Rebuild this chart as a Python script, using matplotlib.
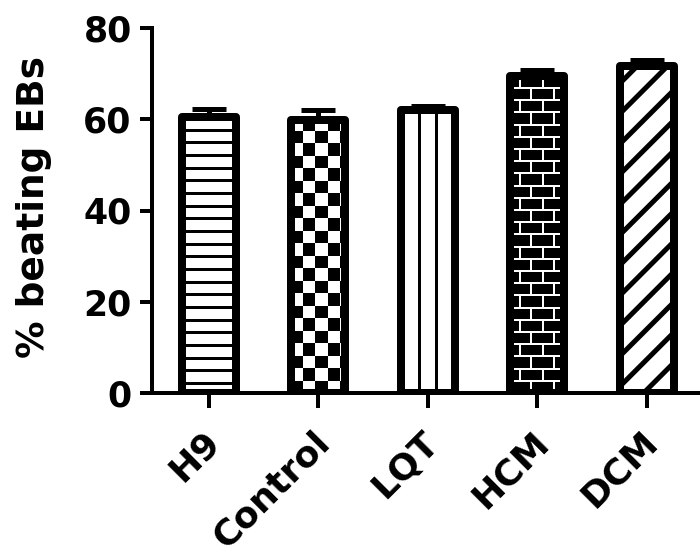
import numpy as np
import matplotlib
matplotlib.use('Agg')
import matplotlib.pyplot as plt
from matplotlib.patches import Rectangle
from matplotlib.collections import PatchCollection, LineCollection
from matplotlib.transforms import ScaledTranslation

groups = ['H9', 'Control', 'LQT', 'HCM', 'DCM']
pct_beating = [60.5, 59.8, 62.0, 69.5, 71.6]
sem = [1.7, 2.2, 0.9, 1.3, 1.4]
fills = ['hlines', 'checker', 'vlines', 'brick', 'diag']
y_ticks = [0, 20, 40, 60, 80]

PT = 0.72  # points per pixel at dpi 100


def add_fill(ax, bar, kind, px, py):
    x0, y0 = bar.get_x(), bar.get_y()
    w, h = bar.get_width(), bar.get_height()
    xc = x0 + w / 2
    arts = []
    if kind == 'hlines':
        ys = np.arange(10 * py, h, 12.67 * py)
        arts.append(ax.hlines(ys, x0, x0 + w, colors='k', lw=3 * PT))
    elif kind == 'checker':
        sx, sy = 12.5 * px, 12.5 * py
        squares = []
        for i in range(int(w / sx) + 2):
            for j in range(int(h / sy) + 2):
                if (i + j) % 2 == 0:
                    squares.append(Rectangle((x0 - px + i * sx, y0 + j * sy), sx, sy))
        arts.append(ax.add_collection(PatchCollection(squares, facecolor='k', edgecolor='none')))
    elif kind == 'vlines':
        arts.append(ax.vlines([xc - 8.5 * px, xc + 8.5 * px], y0, y0 + h, colors='k', lw=3 * PT))
    elif kind == 'brick':
        arts.append(ax.add_patch(Rectangle((x0, y0), w, h, facecolor='k', edgecolor='none')))
        row = 12.2 * py
        ys = np.arange(row, h, row)
        arts.append(ax.hlines(ys, x0, x0 + w, colors='w', lw=2 * PT))
        vx, vb, vt = [], [], []
        for j in range(int(h / row) + 1):
            start = xc - 6 * px + (j % 2) * 11.5 * px - 46 * px
            for k in range(5):
                vx.append(start + k * 23 * px)
                vb.append(y0 + j * row)
                vt.append(y0 + (j + 1) * row)
        arts.append(ax.vlines(vx, vb, vt, colors='w', lw=2 * PT))
    elif kind == 'diag':
        w_px, h_px = w / px, h / py
        segs = []
        for c in np.arange(-w_px, h_px + 30.3, 30.3):
            segs.append([(x0, y0 + c * py), (x0 + w_px * px, y0 + (c + w_px) * py)])
        arts.append(ax.add_collection(LineCollection(segs, colors='k', lw=5 * PT)))
    for a in arts:
        a.set_zorder(2)
        a.set_clip_path(bar)


fig = plt.figure(figsize=(7, 5.58), dpi=100)
ax = fig.add_axes([152 / 700, 165 / 558, 548 / 700, 365 / 558])
ax.set_xlim(-0.52, 4.485)
ax.set_ylim(0, 80)

px = (4.485 + 0.52) / 548
py = 80 / 365

x = np.arange(len(groups))
width = 54 * px
bars = ax.bar(x, pct_beating, width, color='white', edgecolor='none', zorder=1)
for bar, kind in zip(bars, fills):
    add_fill(ax, bar, kind, px, py)
outline = ax.bar(x, pct_beating, width, fill=False, edgecolor='k', lw=8 * PT, zorder=3)
for b in outline:
    b.set_joinstyle('round')

ax.errorbar(x, pct_beating, yerr=[np.zeros(len(sem)), sem], fmt='none', ecolor='k',
            elinewidth=5 * PT, capsize=12, capthick=5 * PT, zorder=4)

for side in ['top', 'right']:
    ax.spines[side].set_visible(False)
for side in ['left', 'bottom']:
    ax.spines[side].set_linewidth(4 * PT)

ax.set_yticks(y_ticks)
ax.set_xticks(x)
ax.set_xticklabels(groups, rotation=45, ha='right', va='center', rotation_mode='anchor',
                   fontsize=26, fontweight='bold')
ax.tick_params(axis='y', length=12 * PT, width=4 * PT, pad=6, labelsize=25)
ax.tick_params(axis='x', length=15 * PT, width=4 * PT, pad=17)
for lab in ax.get_yticklabels():
    lab.set_fontweight('bold')

# nudge rotated labels right/down like the original
shift = ScaledTranslation(6 / 100, -5 / 100, fig.dpi_scale_trans)
for lab in ax.get_xticklabels():
    lab.set_transform(lab.get_transform() + shift)

fig.text(34 / 700, 1 - 207 / 558, '% beating EBs', rotation=90, ha='center', va='center',
         fontsize=27, fontweight='bold')

fig.savefig('out.png', dpi=100)
